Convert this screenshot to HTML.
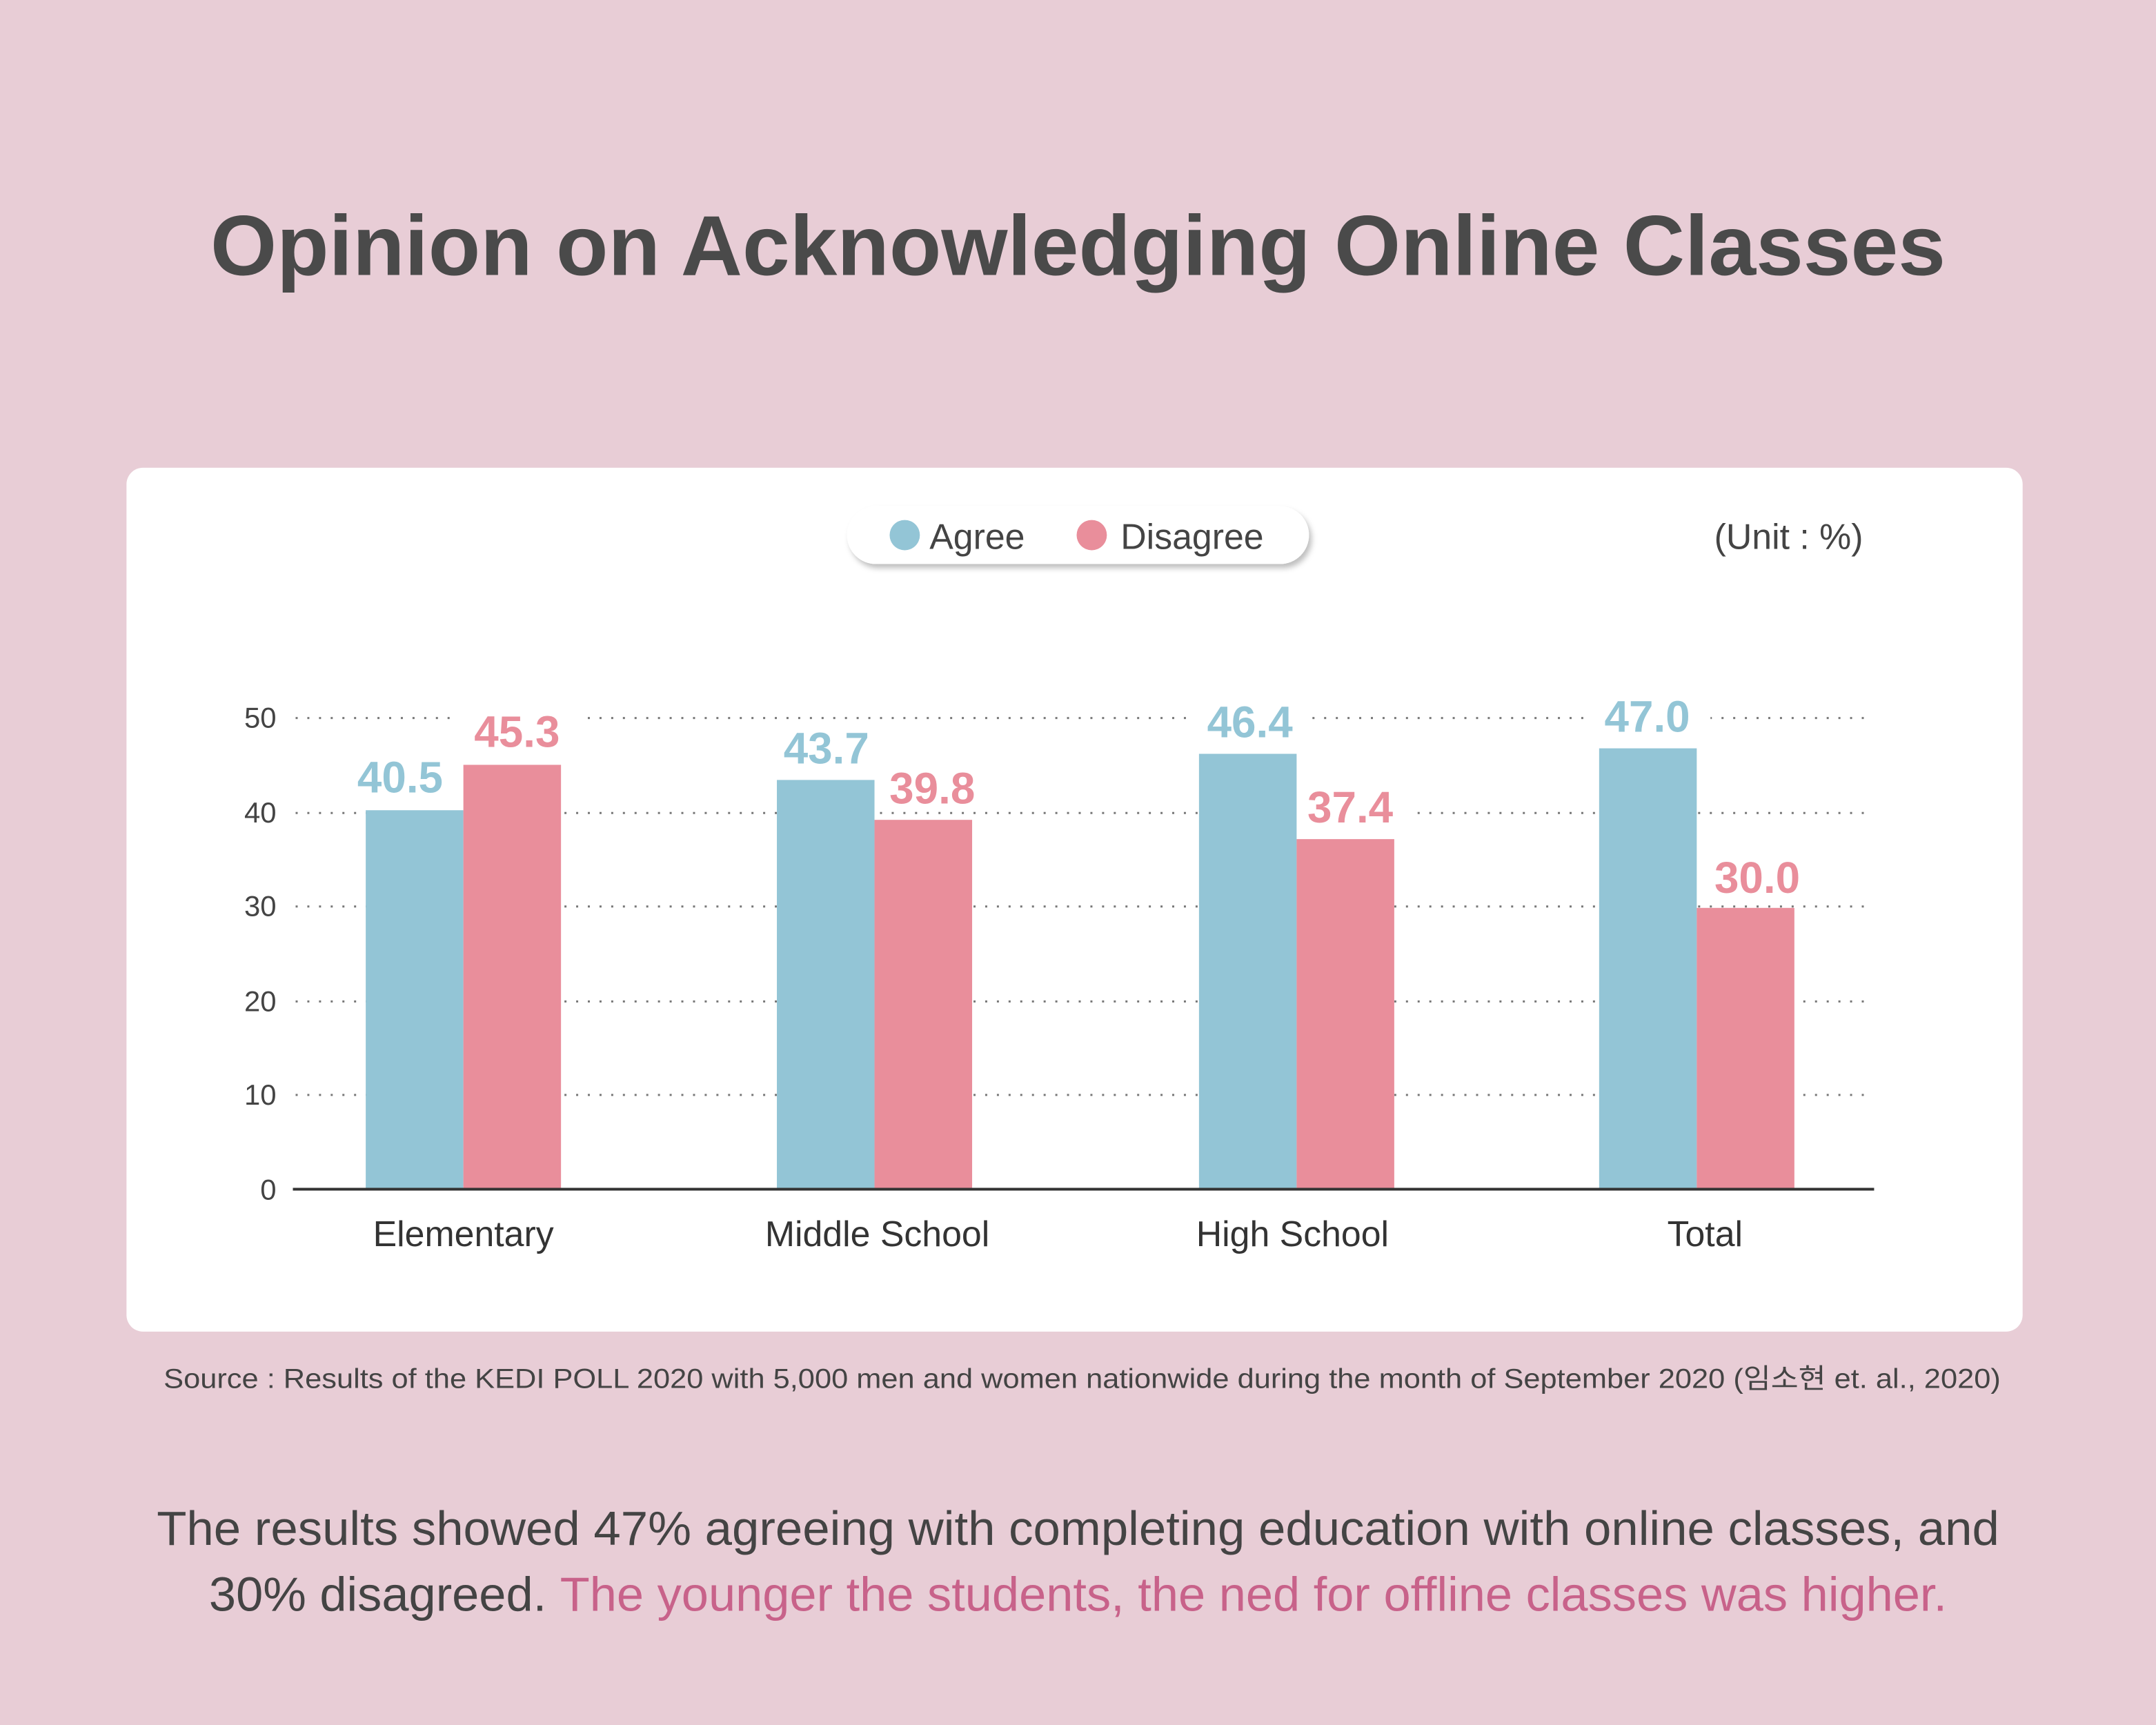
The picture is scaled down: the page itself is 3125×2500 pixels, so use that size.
<!DOCTYPE html>
<html><head><meta charset="utf-8"><style>
html,body{margin:0;padding:0;background:#e8cdd6;}
svg{display:block}
</style></head><body>
<svg width="3125" height="2500" viewBox="0 0 1568 1254" preserveAspectRatio="none" xmlns="http://www.w3.org/2000/svg" font-family="Liberation Sans, Noto Sans CJK KR, sans-serif">
<defs><filter id="sh" x="-10%" y="-30%" width="120%" height="170%"><feDropShadow dx="2" dy="3" stdDeviation="2" flood-color="#000" flood-opacity="0.25"/></filter></defs>
<rect width="1568" height="1254" fill="#e8cdd6"/>
<text x="784" y="200" text-anchor="middle" font-size="62" font-weight="bold" fill="#4a4a4a">Opinion on Acknowledging Online Classes</text>
<rect x="92" y="340" width="1379" height="628" rx="12" fill="#fff"/>
<rect x="616" y="368" width="336" height="42" rx="21" fill="#fff" filter="url(#sh)"/>
<circle cx="658" cy="389" r="11" fill="#93c5d6"/>
<text x="676" y="399" font-size="26" fill="#444">Agree</text>
<circle cx="794" cy="389" r="11" fill="#e98e9b"/>
<text x="815" y="399" font-size="26" fill="#444">Disagree</text>
<text x="1355" y="399" text-anchor="end" font-size="26" fill="#444">(Unit : %)</text>
<g stroke="#777" stroke-width="1.5" stroke-dasharray="1.5 7">
<line x1="215" y1="522" x2="1360" y2="522"/>
<line x1="215" y1="591" x2="1360" y2="591"/>
<line x1="215" y1="659" x2="1360" y2="659"/>
<line x1="215" y1="728" x2="1360" y2="728"/>
<line x1="215" y1="796" x2="1360" y2="796"/>
</g>
<g fill="#fff">
<rect x="250" y="545" width="90" height="36"/>
<rect x="333" y="512" width="90" height="36"/>
<rect x="557" y="523" width="90" height="36"/>
<rect x="633" y="553" width="90" height="36"/>
<rect x="864" y="504" width="90" height="36"/>
<rect x="937" y="567" width="90" height="36"/>
<rect x="1154" y="500" width="90" height="36"/>
<rect x="1233" y="617" width="90" height="36"/>
</g>
<g font-size="21" fill="#444" text-anchor="end">
<text x="201" y="529">50</text><text x="201" y="598">40</text><text x="201" y="666">30</text><text x="201" y="735">20</text><text x="201" y="803">10</text><text x="201" y="872">0</text>
</g>
<g fill="#93c5d6">
<rect x="266" y="589" width="71" height="275"/>
<rect x="565" y="567" width="71" height="297"/>
<rect x="872" y="548" width="71" height="316"/>
<rect x="1163" y="544" width="71" height="320"/>
</g>
<g fill="#e98e9b">
<rect x="337" y="556" width="71" height="308"/>
<rect x="636" y="596" width="71" height="268"/>
<rect x="943" y="610" width="71" height="254"/>
<rect x="1234" y="660" width="71" height="204"/>
</g>
<line x1="213" y1="864.5" x2="1363" y2="864.5" stroke="#333" stroke-width="2"/>
<g font-size="32" font-weight="bold" text-anchor="middle">
<text x="291" y="576" fill="#93c5d6">40.5</text>
<text x="376" y="543" fill="#e98e9b">45.3</text>
<text x="601" y="555" fill="#93c5d6">43.7</text>
<text x="678" y="584" fill="#e98e9b">39.8</text>
<text x="909" y="536" fill="#93c5d6">46.4</text>
<text x="982" y="598" fill="#e98e9b">37.4</text>
<text x="1198" y="532" fill="#93c5d6">47.0</text>
<text x="1278" y="649" fill="#e98e9b">30.0</text>
</g>
<g font-size="26" fill="#333" text-anchor="middle">
<text x="337" y="906">Elementary</text>
<text x="638" y="906">Middle School</text>
<text x="940" y="906">High School</text>
<text x="1240" y="906">Total</text>
</g>
<text x="787" y="1009" text-anchor="middle" font-size="20" fill="#444" textLength="1336" lengthAdjust="spacingAndGlyphs">Source : Results of the KEDI POLL 2020 with 5,000 men and women nationwide during the month of September 2020 (임소현 et. al., 2020)</text>
<text x="784" y="1123" text-anchor="middle" font-size="35" fill="#444" textLength="1340" lengthAdjust="spacingAndGlyphs">The results showed 47% agreeing with completing education with online classes, and</text>
<text x="784" y="1171" text-anchor="middle" font-size="35" textLength="1264" lengthAdjust="spacingAndGlyphs"><tspan fill="#444">30% disagreed. </tspan><tspan fill="#c8628a">The younger the students, the ned for offline classes was higher.</tspan></text>
</svg>
</body></html>
